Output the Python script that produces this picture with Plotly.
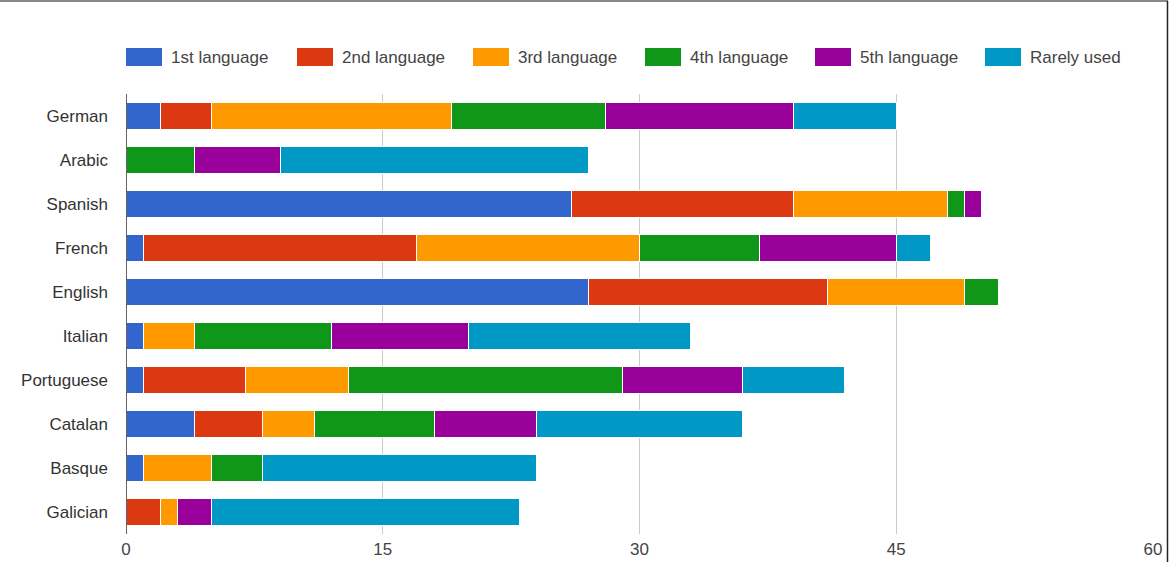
import plotly.graph_objects as go

languages = ["German", "Arabic", "Spanish", "French", "English", "Italian",
             "Portuguese", "Catalan", "Basque", "Galician"]
series_names = ["1st language", "2nd language", "3rd language",
                "4th language", "5th language", "Rarely used"]
first_lang = [2, 0, 26, 1, 27, 1, 1, 4, 1, 0]
second_lang = [3, 0, 13, 16, 14, 0, 6, 4, 0, 2]
third_lang = [14, 0, 9, 13, 8, 3, 6, 3, 4, 1]
fourth_lang = [9, 4, 1, 7, 2, 8, 16, 7, 3, 0]
fifth_lang = [11, 5, 1, 8, 0, 8, 7, 6, 0, 2]
rarely_used = [6, 18, 0, 2, 0, 13, 6, 12, 16, 18]
x_ticks = [0, 15, 30, 45, 60]

series_values = [first_lang, second_lang, third_lang, fourth_lang, fifth_lang, rarely_used]
colors = ["#3366cc", "#dc3912", "#ff9900", "#109618", "#990099", "#0099c6"]

W, H = 1170, 562
ML, MR, MT, MB = 126, 17, 94, 28
PW, PH = W - ML - MR, H - MT - MB

def px_x(p):
    return (p - ML) / PW

def px_y(p):
    return (H - MB - p) / PH

fig = go.Figure()
for name, vals, col in zip(series_names, series_values, colors):
    fig.add_trace(go.Bar(
        y=languages, x=vals, name=name, orientation="h",
        marker=dict(color=col, line=dict(color="white", width=1)),
        showlegend=False,
    ))

font_family = "Liberation Sans, Arial, sans-serif"
FS = 17
shapes = []
annotations = []
# custom legend
legend_x = [126, 297, 473, 645, 815, 985]
for lx, name, col in zip(legend_x, series_names, colors):
    shapes.append(dict(type="rect", xref="paper", yref="paper",
                       x0=px_x(lx), x1=px_x(lx + 36), y0=px_y(66), y1=px_y(48),
                       fillcolor=col, line=dict(width=0)))
    annotations.append(dict(xref="paper", yref="paper", x=px_x(lx + 43), y=px_y(57),
                            xanchor="left", yanchor="middle", showarrow=False,
                            text=name, font=dict(size=FS, color="#444", family=font_family)))
# image border (top and right)
shapes.append(dict(type="line", xref="paper", yref="paper",
                   x0=px_x(0), x1=px_x(1168), y0=px_y(1), y1=px_y(1),
                   line=dict(color="#888", width=2)))
shapes.append(dict(type="line", xref="paper", yref="paper",
                   x0=px_x(1167.5), x1=px_x(1167.5), y0=px_y(1), y1=px_y(562),
                   line=dict(color="#222", width=1.5)))

fig.update_layout(
    barmode="stack",
    bargap=0.4,
    width=W, height=H,
    margin=dict(l=ML, r=MR, t=MT, b=MB, autoexpand=False),
    paper_bgcolor="white",
    plot_bgcolor="white",
    font=dict(family=font_family, size=FS, color="#444"),
    shapes=shapes,
    annotations=annotations,
    xaxis=dict(range=[0, 60], tickvals=x_ticks, ticktext=[str(v) for v in x_ticks],
               showgrid=True, gridcolor="#cccccc", gridwidth=1, zeroline=False,
               showline=False, ticks="", tickfont=dict(size=FS, color="#444"),
               ticklabelstandoff=3, automargin=False),
    yaxis=dict(categoryorder="array", categoryarray=languages, autorange="reversed",
               showgrid=False, zeroline=False, showline=False, ticks="",
               tickfont=dict(size=FS, color="#333"), ticklabelstandoff=17,
               automargin=False),
)
# axis baseline at x=0
fig.add_shape(type="line", xref="x", yref="paper", x0=0, x1=0, y0=0, y1=1,
              line=dict(color="#333", width=1.5))

fig.write_html("out.html", config={"displayModeBar": False},
               post_script="document.body.style.margin='0';")
